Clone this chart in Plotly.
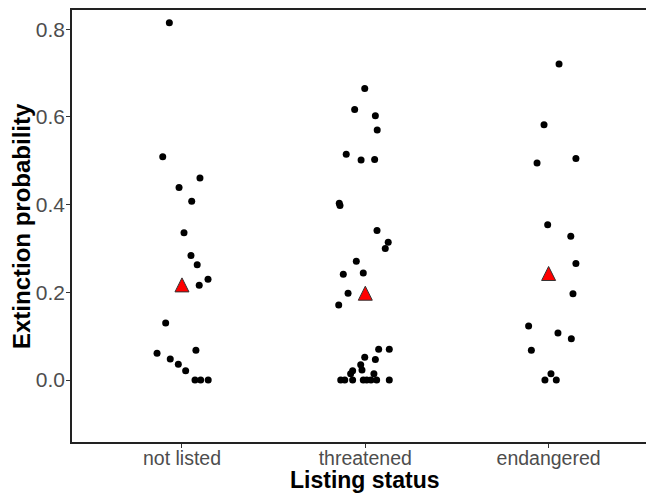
import plotly.graph_objects as go

categories = ["not listed", "threatened", "endangered"]

not_listed_vals = [0.815, 0.509, 0.461, 0.439, 0.408, 0.336, 0.284, 0.263, 0.230, 0.216,
                   0.130, 0.061, 0.068, 0.048, 0.036, 0.021, 0.0, 0.0, 0.0]
not_listed_jit = [-0.069, -0.105, 0.098, -0.016, 0.053, 0.011, 0.049, 0.083, 0.142, 0.094,
                  -0.089, -0.136, 0.076, -0.064, -0.020, 0.020, 0.071, 0.102, 0.143]

threatened_vals = [0.665, 0.617, 0.603, 0.570, 0.515, 0.502, 0.503, 0.403, 0.398, 0.341,
                   0.314, 0.300, 0.271, 0.241, 0.244, 0.198, 0.171, 0.070, 0.070, 0.052,
                   0.047, 0.035, 0.023, 0.021, 0.014, 0.014, 0.0, 0.0, 0.0, 0.0,
                   0.0, 0.0, 0.0, 0.0]
threatened_jit = [-0.003, -0.058, 0.055, 0.065, -0.104, -0.023, 0.051, -0.142, -0.138, 0.064,
                  0.125, 0.109, -0.049, -0.120, -0.011, -0.094, -0.145, 0.073, 0.131, -0.003,
                  0.055, -0.025, -0.018, -0.069, -0.080, 0.047, -0.134, -0.112, -0.069, -0.011,
                  0.008, 0.031, 0.062, 0.131]

endangered_vals = [0.721, 0.582, 0.505, 0.495, 0.354, 0.328, 0.266, 0.197, 0.123, 0.107,
                   0.094, 0.068, 0.014, 0.0, 0.0]
endangered_jit = [0.057, -0.025, 0.149, -0.063, -0.005, 0.121, 0.149, 0.133, -0.109, 0.051,
                  0.124, -0.094, 0.013, -0.020, 0.042]

group_means = [0.217, 0.198, 0.243]

y_ticks = [0.0, 0.2, 0.4, 0.6, 0.8]
y_tick_labels = ["0.0", "0.2", "0.4", "0.6", "0.8"]

FONT = "Liberation Sans, Arial, sans-serif"

fig = go.Figure()

groups = [(not_listed_vals, not_listed_jit), (threatened_vals, threatened_jit),
          (endangered_vals, endangered_jit)]
xs, ys = [], []
for i, (vals, jit) in enumerate(groups):
    for v, j in zip(vals, jit):
        xs.append(i + 1 + j)
        ys.append(v)

fig.add_trace(go.Scatter(
    x=xs, y=ys, mode="markers",
    marker=dict(color="black", size=7, line=dict(width=0)),
    showlegend=False, hoverinfo="skip"))

fig.add_trace(go.Scatter(
    x=[1, 2, 3], y=group_means, mode="markers",
    marker=dict(symbol="arrow-down", angle=180, standoff=7, size=14,
                color="#FF0000", line=dict(color="#333333", width=1)),
    showlegend=False, hoverinfo="skip"))

# the page body adds an 8px offset, so the figure is sized to fill the rest of the window
fig.update_layout(
    width=646, height=485,
    margin=dict(l=64, r=0, t=2, b=51, autoexpand=False),
    paper_bgcolor="white", plot_bgcolor="white",
    font=dict(family=FONT),
    xaxis=dict(
        range=[0.4, 3.575], tickmode="array", tickvals=[1, 2, 3], ticktext=categories,
        showgrid=False, zeroline=False, showline=True, linecolor="#222222", linewidth=1.6,
        mirror=True, ticks="outside", ticklen=4, tickcolor="#333333", tickwidth=1,
        automargin=False, ticklabelstandoff=-6,
        tickfont=dict(size=19.5, color="#4D4D4D", family=FONT)),
    yaxis=dict(
        range=[-0.1414, 0.844], tickmode="array", tickvals=y_ticks, ticktext=y_tick_labels,
        showgrid=False, zeroline=False, showline=True, linecolor="#222222", linewidth=1.6,
        mirror=False, ticks="outside", ticklen=4, tickcolor="#333333", tickwidth=1,
        automargin=False, ticklabelstandoff=-3,
        tickfont=dict(size=21, color="#4D4D4D", family=FONT)),
    annotations=[
        dict(text="<b>Listing status</b>", xref="x", x=2, yref="paper", y=(442 - 480) / 432,
             xanchor="center", yanchor="middle", showarrow=False,
             font=dict(size=23, color="black", family=FONT)),
        dict(text="<b>Extinction probability</b>", xref="paper", x=(21 - 72) / 582,
             yref="paper", y=0.5, xanchor="center", yanchor="middle", textangle=-90,
             showarrow=False, font=dict(size=24, color="black", family=FONT)),
    ],
)

fig.write_html("out.html")
